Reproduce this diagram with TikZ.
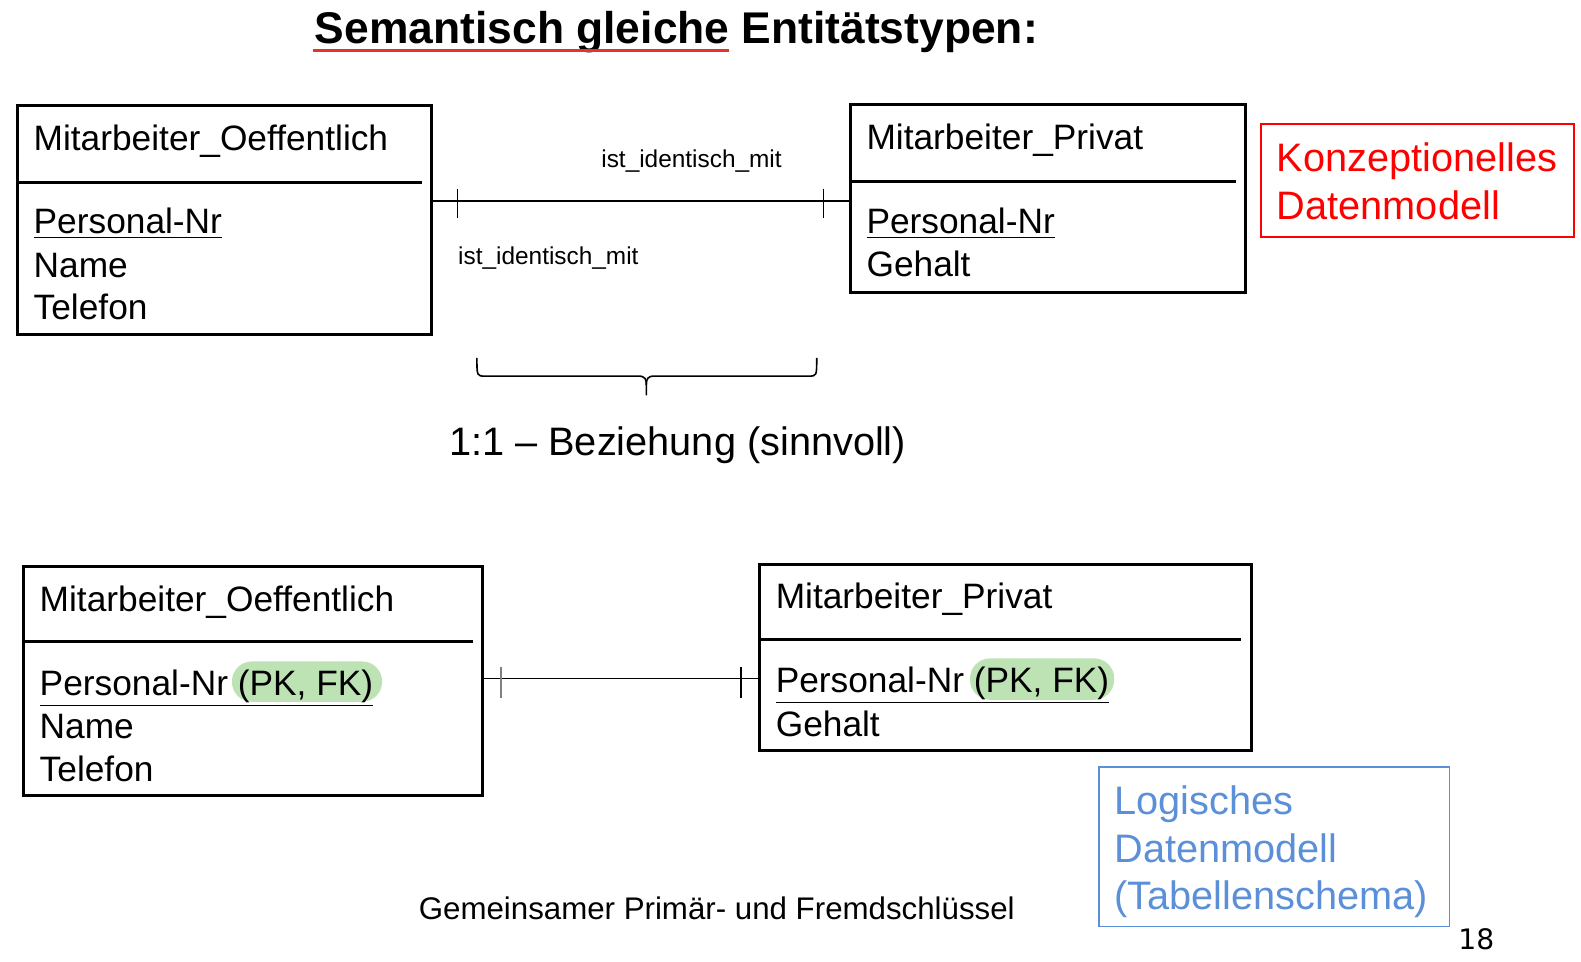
\documentclass[tikz,border=0pt]{standalone}
\usepackage{fontspec}
\setmainfont{Liberation Sans}
\newfontfamily\djv{DejaVu Sans}
\definecolor{hlgreen}{HTML}{BDE3B5}
\definecolor{lblue}{HTML}{5B8FD8}
\definecolor{ulred}{HTML}{E8332A}
\begin{document}
\begin{tikzpicture}[x=0.50415pt,y=-0.50415pt,
  ent/.style={draw,line width=1.5pt,inner sep=0,outer sep=0,anchor=north west},
  txt/.style={anchor=base west,inner sep=0,font=\fontsize{17.65}{21}\selectfont},
  small/.style={anchor=base west,inner sep=0,font=\fontsize{12.2}{14}\selectfont},
  big/.style={anchor=base west,inner sep=0,font=\fontsize{19.86}{23}\selectfont},
  divider/.style={line width=1.5pt},
  conn/.style={line width=0.9pt},
  tick/.style={line width=0.7pt},
  hl/.style={fill=hlgreen,rounded corners=10pt,inner sep=0,outer sep=0,anchor=west}]
\useasboundingbox (0,0) rectangle (1568,954);

% title
\node[anchor=base west,inner sep=0,font=\fontsize{22.2}{26}\bfseries\selectfont] (title) at (312,43) {Semantisch gleiche Entitätstypen:};
\draw[ulred,line width=1.5pt] (title.base west) ++(-2,7) coordinate (ul1) -- ++(413,0) coordinate (ul2);

% top entities
\node[ent,minimum width=207.2pt,minimum height=114.4pt] (e1) at (17,105) {};
\node[ent,minimum width=197.6pt,minimum height=93.8pt] (e2) at (843,104) {};
\coordinate (d1) at (419,181);
\coordinate (d2) at (1226,180);
\draw[divider] (e1.west |- d1) -- (d1);
\draw[divider] (e2.west |- d2) -- (d2);

\node[txt] (e1n) at (33,149) {Mitarbeiter\_Oeffentlich};
\node[txt] (e1a) at (33,232) {\underline{Personal-Nr}};
\node[txt] (e1b) at (33,275) {Name};
\node[txt] (e1c) at (33,317) {Telefon};

\node[txt] (e2n) at (859,148) {Mitarbeiter\_Privat};
\node[txt] (e2a) at (859,232) {\underline{Personal-Nr}};
\node[txt] (e2b) at (859,274) {Gehalt};

% top connector
\coordinate (r1) at (0,199);
\draw[conn] (e1.east |- r1) coordinate (c1s) -- (e2.west |- r1) coordinate (c1e);
\coordinate (k1) at (454,199);
\coordinate (k2) at (817,199);
\draw[tick] (k1) ++(0,-12) -- ++(0,29);
\draw[tick] (k2) ++(0,-12) -- ++(0,29);
\node[small] (l1) at (596,166) {ist\_identisch\_mit};
\node[small] (l2) at (454,262) {ist\_identisch\_mit};

% brace
\coordinate (bl) at (473,355);
\coordinate (br) at (810,355);
\coordinate (bm) at (641,392);
\draw[line width=0.8pt] (bl) .. controls (473,373) and (473,373) .. (481,373) -- (633,373) .. controls (640,373) and (641,376) .. (641,382) -- (bm);
\draw[line width=0.8pt] (br) .. controls (810,373) and (810,373) .. (802,373) -- (649,373) .. controls (642,373) and (641,376) .. (641,382);
\node[big] (rel) at (445,452) {1:1 – Beziehung (sinnvoll)};

% red box
\node[draw=red,line width=0.8pt,minimum width=156.3pt,minimum height=56.5pt,inner sep=0,anchor=north west] (kbox) at (1250,122) {};
\node[big,text=red] (k1t) at (1266,170) {Konzeptionelles};
\node[big,text=red] (k2t) at (1266,218) {Datenmodell};

% bottom entities
\node[ent,minimum width=229.9pt,minimum height=114.4pt] (e3) at (23,562) {};
\node[ent,minimum width=246pt,minimum height=92.8pt] (e4) at (753,560) {};
\coordinate (d3) at (469,636);
\coordinate (d4) at (1231,634);
\draw[divider] (e3.west |- d3) -- (d3);
\draw[divider] (e4.west |- d4) -- (d4);

\node[hl,minimum width=75.1pt,minimum height=20.2pt] (h1) at (230,676) {};
\node[hl,minimum width=72.1pt,minimum height=20.7pt] (h2) at (962,673.5) {};

\node[txt] (e3n) at (39,606) {Mitarbeiter\_Oeffentlich};
\node[txt] (e3a) at (39,690) {\underline{Personal-Nr (PK, FK)}};
\node[txt] (e3b) at (39,732) {Name};
\node[txt] (e3c) at (39,775) {Telefon};

\node[txt] (e4n) at (769,603) {Mitarbeiter\_Privat};
\node[txt] (e4a) at (769,687) {\underline{Personal-Nr (PK, FK)}};
\node[txt] (e4b) at (769,730) {Gehalt};

% bottom connector
\coordinate (r2) at (0,673);
\draw[conn] (e3.east |- r2) -- (e4.west |- r2);
\coordinate (k3) at (497,673);
\coordinate (k4) at (735,673);
\draw[tick,gray] (k3) ++(0,-11) -- ++(0,30);
\draw[tick] (k4) ++(0,-11) -- ++(0,30);

% blue box
\node[draw=lblue,line width=0.8pt,minimum width=175.4pt,minimum height=79.7pt,inner sep=0,anchor=north west] (lbox) at (1089,760) {};
\node[big,text=lblue] (b1t) at (1105,808) {Logisches};
\node[big,text=lblue] (b2t) at (1105,855) {Datenmodell};
\node[big,text=lblue] (b3t) at (1105,902) {(Tabellenschema)};

\node[anchor=base west,inner sep=0,font=\fontsize{15.63}{18}\selectfont] (foot) at (415,912) {Gemeinsamer Primär- und Fremdschlüssel};
\node[anchor=base west,inner sep=0,font=\djv\fontsize{14.1}{16}\selectfont] (pg) at (1446,942) {18};
\end{tikzpicture}
\end{document}
